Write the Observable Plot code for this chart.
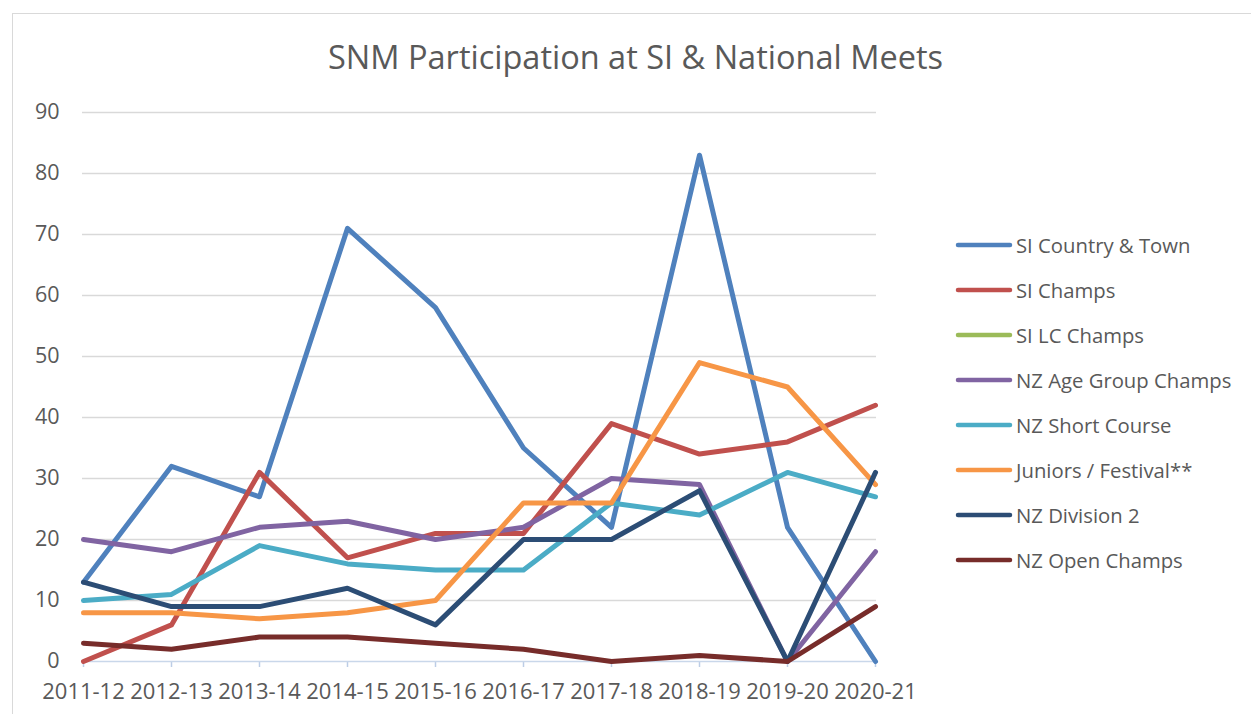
<!DOCTYPE html>
<html>
<head>
<meta charset="utf-8">
<script src="https://cdn.jsdelivr.net/npm/d3@7"></script>
<script src="https://cdn.jsdelivr.net/npm/@observablehq/plot@0.6"></script>
<style>
  body { margin: 0; background: #fff; font-family: "Open Sans", sans-serif; }
  #wrap { position: relative; width: 1251px; height: 714px; overflow: hidden; background: #fff; }
  #frame { position: absolute; left: 12px; top: 13px; width: 1300px; height: 800px; border: 1.5px solid #d9d9d9; box-sizing: border-box; }
  #chart { position: absolute; left: 0; top: 0; }
  #title { position: absolute; left: 0; width: 1271px; top: 37px; text-align: center; font-size: 32.5px; line-height: 40px; color: #595959; }
  #legend { position: absolute; left: 0; top: 0; }
  .row { position: absolute; left: 955px; height: 30px; display: flex; align-items: center; font-size: 20.3px; color: #595959; white-space: nowrap; }
  .row svg { display: block; margin-right: 3px; }
</style>
</head>
<body>
<div id="wrap">
  <div id="frame"></div>
  <div id="chart"></div>
  <div id="title">SNM Participation at SI &amp; National Meets</div>
  <div id="legend"></div>
</div>
<script>
const seasons = ["2011-12","2012-13","2013-14","2014-15","2015-16","2016-17","2017-18","2018-19","2019-20","2020-21"];
const seriesNames = ["SI Country & Town","SI Champs","SI LC Champs","NZ Age Group Champs","NZ Short Course","Juniors / Festival**","NZ Division 2","NZ Open Champs"];
const siCountryTown = [13, 32, 27, 71, 58, 35, 22, 83, 22, 0];
const siChamps      = [0, 6, 31, 17, 21, 21, 39, 34, 36, 42];
const siLcChamps    = [null, null, null, null, null, null, null, null, null, null];
const nzAgeGroup    = [20, 18, 22, 23, 20, 22, 30, 29, 0, 18];
const nzShortCourse = [10, 11, 19, 16, 15, 15, 26, 24, 31, 27];
const juniorsFest   = [8, 8, 7, 8, 10, 26, 26, 49, 45, 29];
const nzDivision2   = [13, 9, 9, 12, 6, 20, 20, 28, 0, 31];
const nzOpenChamps  = [3, 2, 4, 4, 3, 2, 0, 1, 0, 9];
const yTicks = [0, 10, 20, 30, 40, 50, 60, 70, 80, 90];
const palette = ["#4F81BD","#C0504D","#9BBB59","#8064A2","#4BACC6","#F79646","#2C4D75","#772C2A"];

const seriesValues = [siCountryTown, siChamps, siLcChamps, nzAgeGroup, nzShortCourse, juniorsFest, nzDivision2, nzOpenChamps];
const data = [];
seriesNames.forEach((name, i) => {
  seasons.forEach((s, j) => data.push({series: name, season: s, value: seriesValues[i][j]}));
});

const plot = Plot.plot({
  width: 1251,
  height: 714,
  marginLeft: 82,
  marginRight: 375,
  marginTop: 112,
  marginBottom: 53,
  style: { fontFamily: "'Open Sans', sans-serif", background: "transparent" },
  x: { type: "point", domain: seasons, padding: 0 },
  y: { domain: [0, 90] },
  color: { domain: seriesNames, range: palette },
  marks: [
    Plot.gridY(yTicks.filter(d => d > 0), { stroke: "#D9D9D9", strokeOpacity: 1, strokeWidth: 1.5 }),
    Plot.axisY(yTicks, { tickSize: 0, tickPadding: 23, fontSize: 21.5, fill: "#595959", label: null }),
    Plot.axisX(seasons, { tickSize: 6, tickPadding: 16, fontSize: 22, fill: "#595959", stroke: "#BCCDE6", strokeWidth: 1.5, label: null }),
    Plot.ruleY([0], { stroke: "#C9D7EA", strokeWidth: 1.5 }),
    Plot.line(data, { x: "season", y: "value", z: "series", stroke: "series", strokeWidth: 5, strokeLinejoin: "round", strokeLinecap: "round" })
  ]
});
document.getElementById("chart").appendChild(plot);

const legend = document.getElementById("legend");
seriesNames.forEach((name, i) => {
  const row = document.createElement("div");
  row.className = "row";
  row.style.top = (245 + i * 45 - 15) + "px";
  const ns = "http://www.w3.org/2000/svg";
  const sw = document.createElementNS(ns, "svg");
  sw.setAttribute("width", 58); sw.setAttribute("height", 10);
  const ln = document.createElementNS(ns, "line");
  ln.setAttribute("x1", 3); ln.setAttribute("x2", 55); ln.setAttribute("y1", 5); ln.setAttribute("y2", 5);
  ln.setAttribute("stroke", palette[i]); ln.setAttribute("stroke-width", 4.5); ln.setAttribute("stroke-linecap", "round");
  sw.appendChild(ln);
  row.appendChild(sw);
  const t = document.createElement("span");
  t.textContent = name;
  row.appendChild(t);
  legend.appendChild(row);
});
</script>
</body>
</html>
